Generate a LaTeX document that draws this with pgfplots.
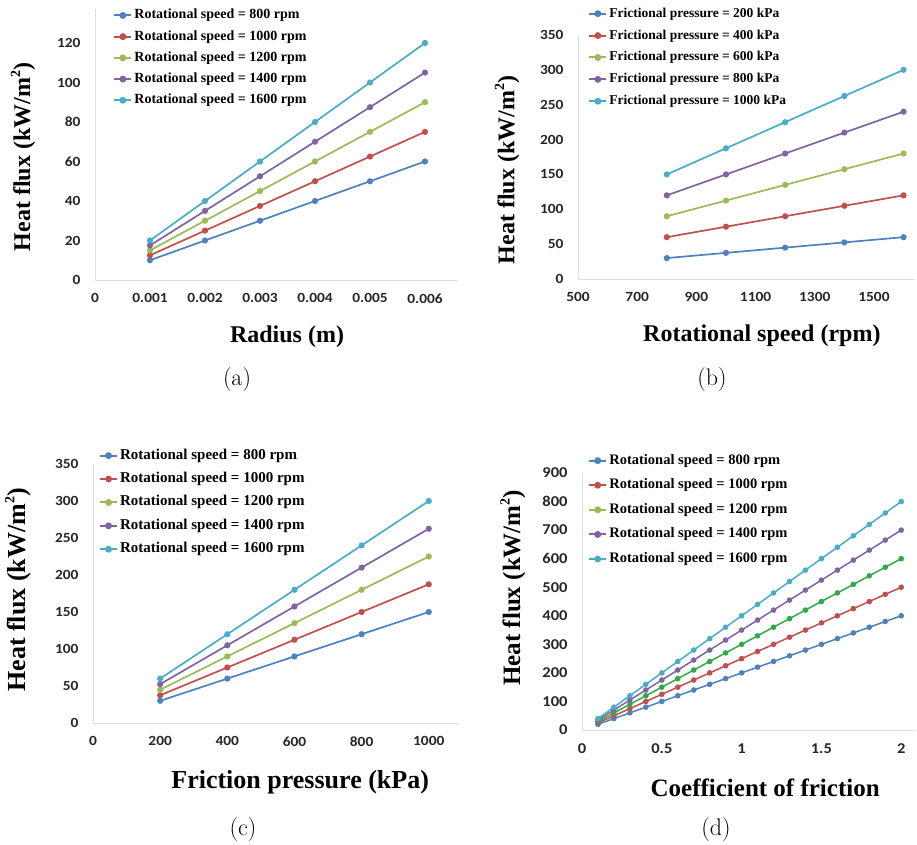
\documentclass[border=0pt]{standalone}
\usepackage{pgfplots}
\pgfplotsset{compat=1.18}
\usepackage{pgfplotstable}
\usepackage{fontspec}
\newfontfamily\tickfont[FakeStretch=1.1]{Carlito}
\newfontfamily\lserif{Liberation Serif}
\definecolor{cA}{HTML}{4F81BD}
\definecolor{cB}{HTML}{C0504D}
\definecolor{cC}{HTML}{9BBB59}
\definecolor{cCd}{HTML}{33A84B}
\definecolor{cD}{HTML}{8064A2}
\definecolor{cE}{HTML}{4BACC6}
\newcommand{\sqm}{m\raisebox{0.42em}{\fontsize{14}{14}\selectfont 2}}

\pgfplotstableread{
x a b c d e
0.001 10 12.5 15 17.5 20
0.002 20 25 30 35 40
0.003 30 37.5 45 52.5 60
0.004 40 50 60 70 80
0.005 50 62.5 75 87.5 100
0.006 60 75 90 105 120
}\tabA
\pgfplotstableread{
x a b c d e
800 30 60 90 120 150
1000 37.5 75 112.5 150 187.5
1200 45 90 135 180 225
1400 52.5 105 157.5 210 262.5
1600 60 120 180 240 300
}\tabB
\pgfplotstableread{
x a b c d e
200 30 37.5 45 52.5 60
400 60 75 90 105 120
600 90 112.5 135 157.5 180
800 120 150 180 210 240
1000 150 187.5 225 262.5 300
}\tabC
\pgfplotstableread{
x a b c d e
0.1 20 25 30 35 40
0.2 40 50 60 70 80
0.3 60 75 90 105 120
0.4 80 100 120 140 160
0.5 100 125 150 175 200
0.6 120 150 180 210 240
0.7 140 175 210 245 280
0.8 160 200 240 280 320
0.9 180 225 270 315 360
1.0 200 250 300 350 400
1.1 220 275 330 385 440
1.2 240 300 360 420 480
1.3 260 325 390 455 520
1.4 280 350 420 490 560
1.5 300 375 450 525 600
1.6 320 400 480 560 640
1.7 340 425 510 595 680
1.8 360 450 540 630 720
1.9 380 475 570 665 760
2.0 400 500 600 700 800
}\tabD

\pgfplotsset{
  panel/.style={
    scale only axis, clip=false,
    scaled x ticks=false, scaled y ticks=false,
    axis x line=bottom, axis y line=left,
    axis line style={draw=black!13, line width=0.8pt, -},
    major tick length=0pt,
    /pgf/number format/assume math mode=true,
    tick label style={font=\tickfont\bfseries\fontsize{14}{14}\selectfont, text=black!85},
    yticklabel style={anchor=east, xshift=-11pt},
    xticklabel style={anchor=north, yshift=-10pt},
    every axis plot/.append style={line width=1.7pt, mark=*, mark size=2.2pt, mark options={solid}},
    label style={font=\lserif\bfseries\fontsize{24}{24}\selectfont},
    legend cell align=left,
    legend image post style={line width=2pt, mark size=2.4pt},
    legend style={draw=none, fill=none, inner sep=0pt, anchor=north west,
      nodes={inner ysep=1pt, inner xsep=2pt, text height=10pt, text depth=3pt}},
  }
}

\begin{document}
\begin{tikzpicture}
\useasboundingbox (0pt,0pt) rectangle (917pt,844pt);

% (a)
\begin{axis}[panel, at={(95pt,564pt)}, anchor=south west, width=363pt, height=270.6pt,
  xmin=0, xmax=0.0066, ymin=0, ymax=137,
  xtick={0,0.001,0.002,0.003,0.004,0.005,0.006},
  xticklabels={0,0.001,0.002,0.003,0.004,0.005,0.006},
  ytick={0,20,40,60,80,100,120}, yticklabels={0,20,40,60,80,100,120},
  xlabel={Radius (m)}, ylabel={Heat flux (kW/\sqm)},
  xlabel style={at={(axis description cs:0.529,-0.211)}, anchor=center},
  ylabel style={at={(axis description cs:-0.198,0.455)}, anchor=center},
  legend style={at={(0.05,1.006)}, row sep=6.2pt, font=\lserif\bfseries\fontsize{14}{14}\selectfont}]
\addplot[cA] table[x=x,y=a]{\tabA}; \addlegendentry{Rotational speed = 800 rpm}
\addplot[cB] table[x=x,y=b]{\tabA}; \addlegendentry{Rotational speed = 1000 rpm}
\addplot[cC] table[x=x,y=c]{\tabA}; \addlegendentry{Rotational speed = 1200 rpm}
\addplot[cD] table[x=x,y=d]{\tabA}; \addlegendentry{Rotational speed = 1400 rpm}
\addplot[cE] table[x=x,y=e]{\tabA}; \addlegendentry{Rotational speed = 1600 rpm}
\end{axis}

% (b)
\begin{axis}[panel, at={(578pt,565pt)}, anchor=south west, width=337.4pt, height=244pt,
  xmin=500, xmax=1640, ymin=0, ymax=350,
  xtick={500,700,900,1100,1300,1500}, xticklabels={500,700,900,1100,1300,1500},
  ytick={0,50,100,150,200,250,300,350}, yticklabels={0,50,100,150,200,250,300,350},
  xlabel={Rotational speed (rpm)}, ylabel={Heat flux (kW/\sqm)},
  xlabel style={at={(axis description cs:0.545,-0.234)}, anchor=center},
  ylabel style={at={(axis description cs:-0.210,0.447)}, anchor=center},
  legend style={at={(0.03,1.119)}, row sep=6.9pt, font=\lserif\bfseries\fontsize{13.5}{13.5}\selectfont}]
\addplot[cA] table[x=x,y=a]{\tabB}; \addlegendentry{Frictional pressure = 200 kPa}
\addplot[cB] table[x=x,y=b]{\tabB}; \addlegendentry{Frictional pressure = 400 kPa}
\addplot[cC] table[x=x,y=c]{\tabB}; \addlegendentry{Frictional pressure = 600 kPa}
\addplot[cD] table[x=x,y=d]{\tabB}; \addlegendentry{Frictional pressure = 800 kPa}
\addplot[cE] table[x=x,y=e]{\tabB}; \addlegendentry{Frictional pressure = 1000 kPa}
\end{axis}

% (c)
\begin{axis}[panel, at={(93pt,121pt)}, anchor=south west, width=366pt, height=259pt,
  xmin=0, xmax=1090, ymin=0, ymax=350,
  xtick={0,200,400,600,800,1000}, xticklabels={0,200,400,600,800,1000},
  ytick={0,50,100,150,200,250,300,350}, yticklabels={0,50,100,150,200,250,300,350},
  xlabel={Friction pressure (kPa)}, ylabel={Heat flux (kW/\sqm)},
  label style={font=\lserif\bfseries\fontsize{26}{26}\selectfont},
  xlabel style={at={(axis description cs:0.566,-0.228)}, anchor=center},
  ylabel style={at={(axis description cs:-0.205,0.514)}, anchor=center},
  legend style={at={(0.016,1.062)}, row sep=8.4pt, font=\lserif\bfseries\fontsize{15}{15}\selectfont}]
\addplot[cA] table[x=x,y=a]{\tabC}; \addlegendentry{Rotational speed = 800 rpm}
\addplot[cB] table[x=x,y=b]{\tabC}; \addlegendentry{Rotational speed = 1000 rpm}
\addplot[cC] table[x=x,y=c]{\tabC}; \addlegendentry{Rotational speed = 1200 rpm}
\addplot[cD] table[x=x,y=d]{\tabC}; \addlegendentry{Rotational speed = 1400 rpm}
\addplot[cE] table[x=x,y=e]{\tabC}; \addlegendentry{Rotational speed = 1600 rpm}
\end{axis}

% (d)
\begin{axis}[panel, at={(582pt,114pt)}, anchor=south west, width=333.6pt, height=257pt,
  xmin=0, xmax=2.09, ymin=0, ymax=900,
  xtick={0,0.5,1,1.5,2}, xticklabels={0,0.5,1,1.5,2},
  ytick={0,100,200,300,400,500,600,700,800,900},
  yticklabels={0,100,200,300,400,500,600,700,800,900},
  tick label style={font=\tickfont\bfseries\fontsize{15}{15}\selectfont},
  xlabel={Coefficient of friction}, ylabel={Heat flux (kW/\sqm)},
  label style={font=\lserif\bfseries\fontsize{25}{25}\selectfont},
  xlabel style={at={(axis description cs:0.549,-0.226)}, anchor=center},
  ylabel style={at={(axis description cs:-0.207,0.553)}, anchor=center},
  every axis plot/.append style={line width=1.5pt, mark size=2pt},
  legend style={at={(0.018,1.078)}, row sep=9.6pt, font=\lserif\bfseries\fontsize{14.5}{14.5}\selectfont}]
\addplot[cA] table[x=x,y=a]{\tabD}; \addlegendentry{Rotational speed = 800 rpm}
\addplot[cB] table[x=x,y=b]{\tabD}; \addlegendentry{Rotational speed = 1000 rpm}
\addplot[cCd, legend image post style={cC, line width=2pt, mark size=2.4pt}] table[x=x,y=c]{\tabD}; \addlegendentry{Rotational speed = 1200 rpm}
\addplot[cD] table[x=x,y=d]{\tabD}; \addlegendentry{Rotational speed = 1400 rpm}
\addplot[cE] table[x=x,y=e]{\tabD}; \addlegendentry{Rotational speed = 1600 rpm}
\end{axis}

\node[font=\fontsize{24}{24}\selectfont] at (237pt,464pt) {(a)};
\node[font=\fontsize{24}{24}\selectfont] at (712pt,464pt) {(b)};
\node[font=\fontsize{24}{24}\selectfont] at (243pt,14pt) {(c)};
\node[font=\fontsize{24}{24}\selectfont] at (716pt,14pt) {(d)};
\end{tikzpicture}
\end{document}
